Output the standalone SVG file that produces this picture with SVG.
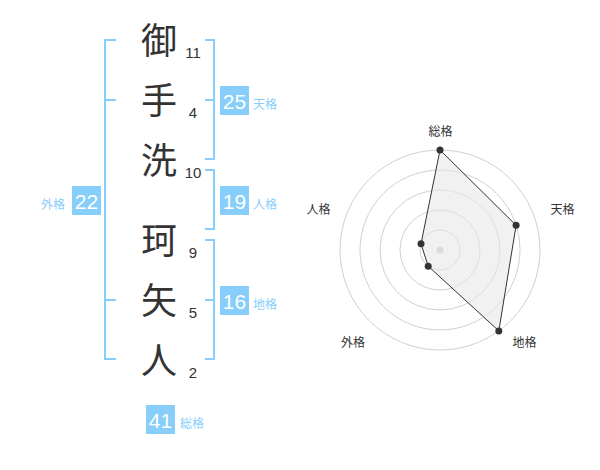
<svg xmlns="http://www.w3.org/2000/svg" width="600" height="470" viewBox="0 0 600 470">
<style>
.k{font-family:"Noto Sans CJK JP","Noto Sans CJK SC",sans-serif;font-size:36px;fill:#333;text-anchor:middle}
.n{font-family:"Liberation Sans",Arial,sans-serif;font-size:15px;fill:#333;text-anchor:middle}
.br{fill:none;stroke:#87cefa;stroke-width:2}
.box{fill:#87cefa}
.bt{font-family:"Liberation Sans",Arial,sans-serif;font-size:21px;fill:#fff;text-anchor:middle}
.lb{font-family:"Noto Sans CJK JP","Noto Sans CJK SC",sans-serif;font-size:12px;fill:#87cefa}
.ring{fill:none;stroke:#d0d0d0;stroke-width:1}
.rl{font-family:"Noto Sans CJK JP","Noto Sans CJK SC",sans-serif;font-size:12px;fill:#333;text-anchor:middle}
.dot{fill:#333}
</style>
<g id="name">
<text class="k" x="159" y="54">御</text>
<text class="k" x="159" y="114">手</text>
<text class="k" x="159" y="174">洗</text>
<text class="k" x="159" y="254">珂</text>
<text class="k" x="159" y="314">矢</text>
<text class="k" x="159" y="374">人</text>
<text class="n" x="193" y="58">11</text>
<text class="n" x="193" y="118">4</text>
<text class="n" x="193" y="178">10</text>
<text class="n" x="193" y="258">9</text>
<text class="n" x="193" y="318">5</text>
<text class="n" x="193" y="378">2</text>
</g>
<g id="connectors">
<path class="br" d="M116,40H105V359H116M105,100H116M105,300H116"/>
<path class="br" d="M205,40H214V159H205M205,100H214"/>
<path class="br" d="M205,170H214V229H205"/>
<path class="br" d="M205,240H214V359H205M205,300H214"/>
</g>
<g id="tenkaku">
<rect class="box" x="220" y="86" width="29" height="29"/>
<text class="bt" x="234.5" y="108.5">25</text>
<text class="lb" x="253" y="109">天格</text>
</g>
<g id="jinkaku">
<rect class="box" x="220" y="186" width="29" height="29"/>
<text class="bt" x="234.5" y="208.5">19</text>
<text class="lb" x="253" y="209">人格</text>
</g>
<g id="chikaku">
<rect class="box" x="220" y="286" width="29" height="29"/>
<text class="bt" x="234.5" y="308.5">16</text>
<text class="lb" x="253" y="309">地格</text>
</g>
<g id="gaikaku">
<rect class="box" x="72" y="186" width="29" height="29"/>
<text class="bt" x="86.5" y="208.5">22</text>
<text class="lb" x="41" y="209">外格</text>
</g>
<g id="soukaku">
<rect class="box" x="146" y="405" width="29" height="29"/>
<text class="bt" x="160.5" y="427.5">41</text>
<text class="lb" x="180" y="428">総格</text>
</g>
<g id="radar">
<circle class="ring" cx="440" cy="250" r="20"/>
<circle class="ring" cx="440" cy="250" r="40"/>
<circle class="ring" cx="440" cy="250" r="60"/>
<circle class="ring" cx="440" cy="250" r="80"/>
<circle class="ring" cx="440" cy="250" r="100"/>
<circle cx="440" cy="250" r="3.5" fill="#c8c8c8"/>
<polygon points="440,150 516.1,225.3 498.8,330.9 428.2,266.2 421,243.8" fill="#e8e8e8" fill-opacity="0.6" stroke="#333" stroke-width="1"/>
<circle class="dot" cx="440" cy="150" r="3.5"/>
<circle class="dot" cx="516.1" cy="225.3" r="3.5"/>
<circle class="dot" cx="498.8" cy="330.9" r="3.5"/>
<circle class="dot" cx="428.2" cy="266.2" r="3.5"/>
<circle class="dot" cx="421" cy="243.8" r="3.5"/>
<text class="rl" x="440.5" y="136">総格</text>
<text class="rl" x="562.5" y="214">天格</text>
<text class="rl" x="524.5" y="347">地格</text>
<text class="rl" x="353" y="347">外格</text>
<text class="rl" x="318.5" y="214">人格</text>
</g>
</svg>
